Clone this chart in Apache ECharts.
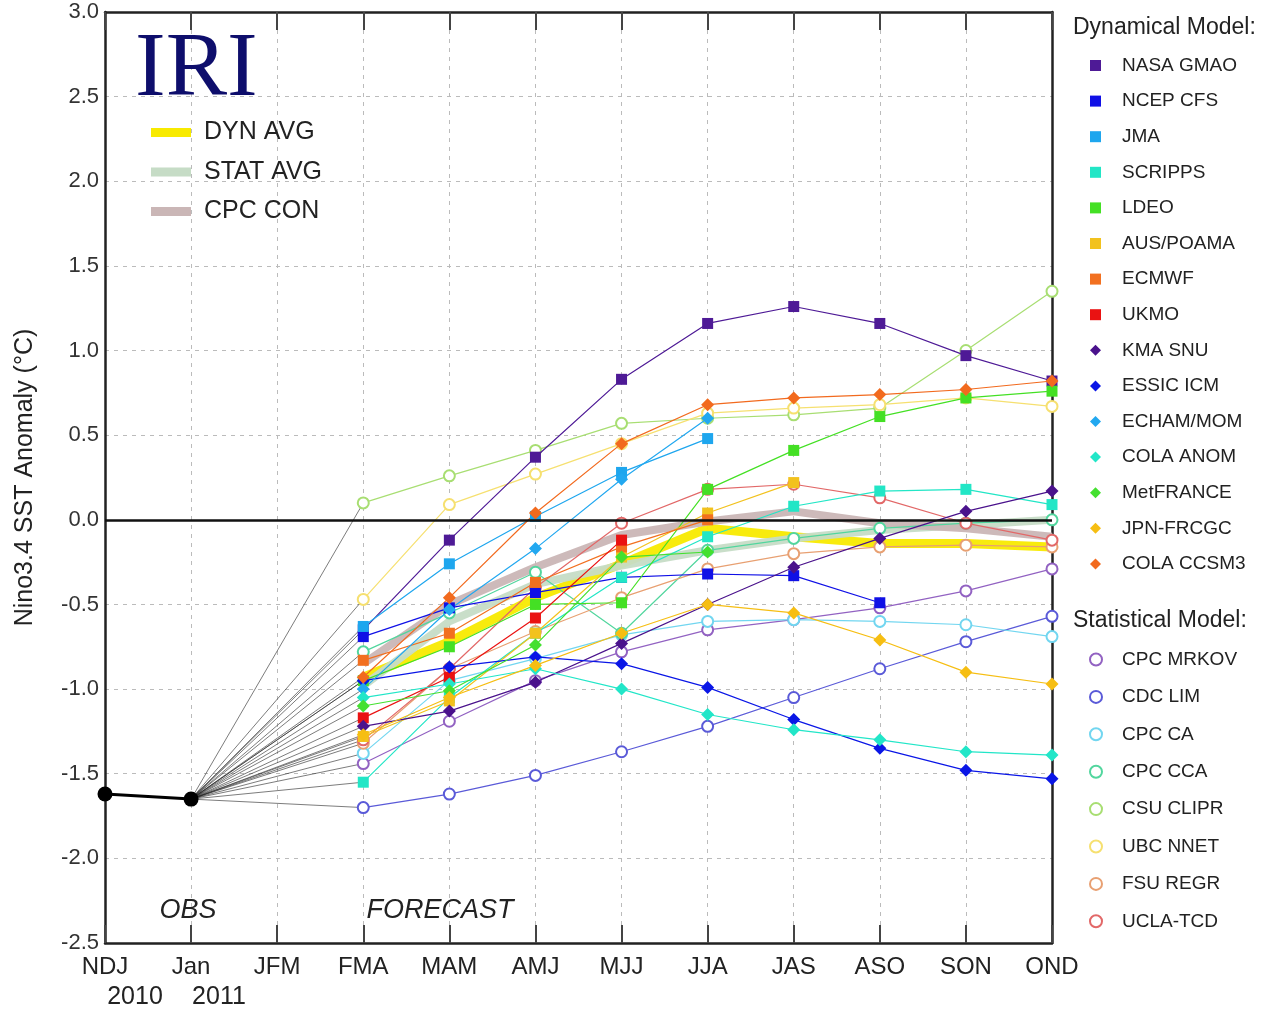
<!DOCTYPE html>
<html>
<head>
<meta charset="utf-8">
<script src="https://cdn.jsdelivr.net/npm/echarts@6/dist/echarts.min.js"></script>
<style>
html,body{margin:0;padding:0;background:#fff;}
#chart{width:1273px;height:1013px;}
</style>
</head>
<body>
<div id="chart"></div>
<script>
// ---------- data ----------
const seasons = ['NDJ','Jan','JFM','FMA','MAM','AMJ','MJJ','JJA','JAS','ASO','SON','OND'];
const yearLabels = ['2010','2011'];
const yTicks = ['-2.5','-2.0','-1.5','-1.0','-0.5','0.0','0.5','1.0','1.5','2.0','2.5','3.0'];
const obsValues = [-1.62, -1.65];           // NDJ, Jan
// forecasts for FMA, MAM, AMJ, MJJ, JJA, JAS, ASO, SON, OND
const nasaGmao  = [-0.65, -0.12, 0.37, 0.83, 1.16, 1.26, 1.16, 0.97, 0.82];
const ncepCfs   = [-0.69, -0.52, -0.43, -0.34, -0.32, -0.33, -0.49, null, null];
const jma       = [-0.63, -0.26, 0.02, 0.28, 0.48, null, null, null, null];
const scripps   = [-1.55, -1.05, -0.67, -0.34, -0.10, 0.08, 0.17, 0.18, 0.09];
const ldeo      = [-0.95, -0.75, -0.50, -0.49, 0.18, 0.41, 0.61, 0.72, 0.76];
const ausPoama  = [-1.28, -1.07, -0.67, -0.22, 0.04, 0.22, null, null, null];
const ecmwf     = [-0.83, -0.67, -0.37, -0.16, 0.00, null, null, null, null];
const ukmo      = [-1.17, -0.93, -0.58, -0.12, null, null, null, null, null];
const kmaSnu    = [-1.22, -1.13, -0.96, -0.73, -0.50, -0.28, -0.11, 0.05, 0.17];
const essicIcm  = [-0.95, -0.87, -0.81, -0.85, -0.99, -1.18, -1.35, -1.48, -1.53];
const echamMom  = [-1.00, -0.53, -0.17, 0.24, 0.60, null, null, null, null];
const colaAnom  = [-1.05, -0.97, -0.88, -1.00, -1.15, -1.24, -1.30, -1.37, -1.39];
const metFrance = [-1.10, -1.01, -0.74, -0.22, -0.19, null, null, null, null];
const jpnFrcgc  = [-1.27, -1.05, -0.86, -0.67, -0.50, -0.55, -0.71, -0.90, -0.97];
const colaCcsm3 = [-0.93, -0.46, 0.04, 0.45, 0.68, 0.72, 0.74, 0.77, 0.82];
const cpcMrkov  = [-1.44, -1.19, -0.95, -0.78, -0.65, -0.59, -0.52, -0.42, -0.29];
const cdcLim    = [-1.70, -1.62, -1.51, -1.37, -1.22, -1.05, -0.88, -0.72, -0.57];
const cpcCa     = [-1.38, -0.95, -0.82, -0.68, -0.60, -0.59, -0.60, -0.62, -0.69];
const cpcCca    = [-0.78, -0.55, -0.31, -0.67, -0.18, -0.11, -0.05, -0.02, 0.00];
const csuClipr  = [0.10, 0.26, 0.41, 0.57, 0.60, 0.62, 0.66, 1.00, 1.35];
const ubcNnet   = [-0.47, 0.09, 0.27, 0.45, 0.63, 0.66, 0.68, 0.72, 0.67];
const fsuRegr   = [-1.32, -0.88, -0.66, -0.46, -0.29, -0.20, -0.16, -0.15, -0.16];
const uclaTcd   = [-1.30, -0.88, -0.40, -0.02, 0.18, 0.21, 0.13, -0.02, -0.12];
const dynAvg    = [-0.93, -0.72, -0.46, -0.26, -0.05, -0.10, -0.14, -0.14, -0.16];
const statAvg   = [-0.98, -0.60, -0.38, -0.27, -0.18, -0.11, -0.06, -0.03, 0.00];
const cpcCon    = [-0.85, -0.50, -0.28, -0.09, -0.01, 0.05, -0.02, -0.05, -0.10];

const dynModels = [
  ['NASA GMAO', nasaGmao, 'rect', '#4e1a96'],
  ['NCEP CFS', ncepCfs, 'rect', '#1010e6'],
  ['JMA', jma, 'rect', '#1ea6ee'],
  ['SCRIPPS', scripps, 'rect', '#22e6c6'],
  ['LDEO', ldeo, 'rect', '#44e024'],
  ['AUS/POAMA', ausPoama, 'rect', '#f2c21e'],
  ['ECMWF', ecmwf, 'rect', '#f27020'],
  ['UKMO', ukmo, 'rect', '#ea1212'],
  ['KMA SNU', kmaSnu, 'diamond', '#4a128c'],
  ['ESSIC ICM', essicIcm, 'diamond', '#0a16e6'],
  ['ECHAM/MOM', echamMom, 'diamond', '#22a8f0'],
  ['COLA ANOM', colaAnom, 'diamond', '#22e6c8'],
  ['MetFRANCE', metFrance, 'diamond', '#44e030'],
  ['JPN-FRCGC', jpnFrcgc, 'diamond', '#f6be12'],
  ['COLA CCSM3', colaCcsm3, 'diamond', '#f26a1e']
];
const statModels = [
  ['CPC MRKOV', cpcMrkov, '#9262c2'],
  ['CDC LIM', cdcLim, '#5a5ad8'],
  ['CPC CA', cpcCa, '#72d6f0'],
  ['CPC CCA', cpcCca, '#52d69e'],
  ['CSU CLIPR', csuClipr, '#a8de72'],
  ['UBC NNET', ubcNnet, '#f6e070'],
  ['FSU REGR', fsuRegr, '#e8a072'],
  ['UCLA-TCD', uclaTcd, '#e26868']
];
const avgLines = [
  ['DYN AVG', dynAvg, '#f8ea00', 9],
  ['STAT AVG', statAvg, '#c6dcc6', 8],
  ['CPC CON', cpcCon, '#cab6b6', 8]
];

// ---------- build ----------
const lead = [null, null, null];
const fcData = v => lead.concat(v);
const series = [];
const FONT = "'Liberation Sans', Arial, sans-serif";

// connectors Jan obs -> first forecast
[...dynModels.map(m => m[1]), ...statModels.map(m => m[1])].forEach(v => {
  series.push({
    type: 'line', silent: true, z: 1, symbol: 'none',
    data: [[1, obsValues[1]], [3, v[0]]],
    lineStyle: {color: '#222', width: 0.7, opacity: 0.85},
    animation: false
  });
});
avgLines.forEach(a => {
  series.push({
    name: a[0], type: 'line', z: 2, symbol: 'none', data: fcData(a[1]),
    itemStyle: {color: a[2]},
    lineStyle: {color: a[2], width: a[3], opacity: 0.95},
    animation: false
  });
});
statModels.forEach(m => {
  series.push({
    name: m[0], type: 'line', z: 3, data: fcData(m[1]),
    symbol: 'emptyCircle', symbolSize: 11, showAllSymbol: true,
    itemStyle: {color: m[2], borderColor: m[2], borderWidth: 2},
    lineStyle: {color: m[2], width: 1.2},
    animation: false
  });
});
dynModels.forEach(m => {
  series.push({
    name: m[0], type: 'line', z: 4, data: fcData(m[1]),
    symbol: m[2], symbolSize: m[2] === 'rect' ? 11 : 13, showAllSymbol: true,
    itemStyle: {color: m[3]},
    lineStyle: {color: m[3], width: 1.2},
    animation: false
  });
});
series.push({
  name: 'OBS', type: 'line', z: 5, data: obsValues,
  symbol: 'circle', symbolSize: 15,
  itemStyle: {color: '#000'}, lineStyle: {color: '#000', width: 3},
  markLine: {
    silent: true, symbol: 'none', label: {show: false},
    lineStyle: {color: '#111', width: 2.5, type: 'solid'},
    data: [{yAxis: 0}]
  },
  animation: false
});

const chart = echarts.init(document.getElementById('chart'));
const tickStyle = {color: '#444', width: 2};
chart.setOption({
  backgroundColor: '#fff',
  animation: false,
  textStyle: {fontFamily: FONT},
  grid: {left: 105, right: 221, top: 12, bottom: 70, show: false},
  xAxis: [{
    type: 'category', data: seasons, boundaryGap: false, position: 'bottom',
    axisLine: {onZero: false, lineStyle: {color: '#222', width: 2.5}},
    axisTick: {inside: true, length: 18, lineStyle: tickStyle, alignWithLabel: true},
    axisLabel: {color: '#222', fontSize: 24, margin: 12, fontFamily: FONT},
    splitLine: {show: true, lineStyle: {color: '#bbb', type: [4, 5], width: 1}}
  }, {
    type: 'category', data: seasons, boundaryGap: false, position: 'top',
    axisLine: {onZero: false, lineStyle: {color: '#222', width: 2.5}},
    axisTick: {inside: true, length: 18, lineStyle: tickStyle},
    axisLabel: {show: false}, splitLine: {show: false}
  }],
  yAxis: [{
    type: 'value', min: -2.5, max: 3.0, interval: 0.5,
    name: 'Nino3.4 SST Anomaly (°C)', nameLocation: 'middle', nameGap: 67, nameRotate: 90,
    nameTextStyle: {color: '#222', fontSize: 25, fontFamily: FONT},
    axisLine: {show: true, onZero: false, lineStyle: {color: '#222', width: 2.5}},
    axisTick: {inside: true, length: 18, lineStyle: tickStyle},
    axisLabel: {color: '#333', fontSize: 22, margin: 6, fontFamily: FONT,
      formatter: v => yTicks[Math.round((v + 2.5) / 0.5)] || v.toFixed(1)},
    splitLine: {show: true, lineStyle: {color: '#bbb', type: [4, 5], width: 1}}
  }, {
    type: 'value', min: -2.5, max: 3.0, interval: 0.5, position: 'right',
    axisLine: {show: true, onZero: false, lineStyle: {color: '#222', width: 2.5}},
    axisTick: {inside: true, length: 18, lineStyle: tickStyle},
    axisLabel: {show: false}, splitLine: {show: false}
  }],
  legend: [{
    data: avgLines.map(a => ({name: a[0], icon: 'rect'})),
    orient: 'vertical', left: 146, top: 115, itemWidth: 40, itemHeight: 9, itemGap: 14.5,
    textStyle: {fontSize: 25, color: '#222', fontFamily: FONT, padding: [0, 0, 0, 8]},
    selectedMode: false
  }, {
    data: dynModels.map(m => ({name: m[0], icon: m[2] === 'rect' ? 'rect' : 'diamond',
      itemStyle: {color: m[3]}})),
    orient: 'vertical', left: 1085, top: 51, itemWidth: 11, itemHeight: 11, itemGap: 16.6,
    textStyle: {fontSize: 19, color: '#222', fontFamily: FONT, padding: [0, 0, 0, 16]},
    selectedMode: false
  }, {
    data: statModels.map(m => ({name: m[0], icon: 'circle',
      itemStyle: {color: '#fff', borderColor: m[2], borderWidth: 2}})),
    orient: 'vertical', left: 1084, top: 645, itemWidth: 12, itemHeight: 12, itemGap: 18.4,
    textStyle: {fontSize: 19, color: '#222', fontFamily: FONT, padding: [0, 0, 0, 15]},
    selectedMode: false
  }],
  graphic: [
    {type: 'text', left: 135, top: 25, z: 10,
      style: {text: 'IRI', fontSize: 92, fontFamily: "'Liberation Serif', 'DejaVu Serif', serif", fill: '#0e0e6c'}},
    {type: 'text', left: 1073, top: 16,
      style: {text: 'Dynamical Model:', fontSize: 23, fontFamily: FONT, fill: '#222'}},
    {type: 'text', left: 1073, top: 609,
      style: {text: 'Statistical Model:', fontSize: 23, fontFamily: FONT, fill: '#222'}},
    {type: 'text', x: 188, y: 910, style: {text: 'OBS', fontSize: 27, fontStyle: 'italic', fontFamily: FONT, fill: '#222', align: 'center', verticalAlign: 'middle'}},
    {type: 'text', x: 440, y: 910, style: {text: 'FORECAST', fontSize: 27, fontStyle: 'italic', fontFamily: FONT, fill: '#222', align: 'center', verticalAlign: 'middle'}},
    {type: 'text', x: 135, y: 997, style: {text: yearLabels[0], fontSize: 25, fontFamily: FONT, fill: '#222', align: 'center', verticalAlign: 'middle'}},
    {type: 'text', x: 219, y: 997, style: {text: yearLabels[1], fontSize: 25, fontFamily: FONT, fill: '#222', align: 'center', verticalAlign: 'middle'}}
  ],
  series: series
});
</script>
</body>
</html>
